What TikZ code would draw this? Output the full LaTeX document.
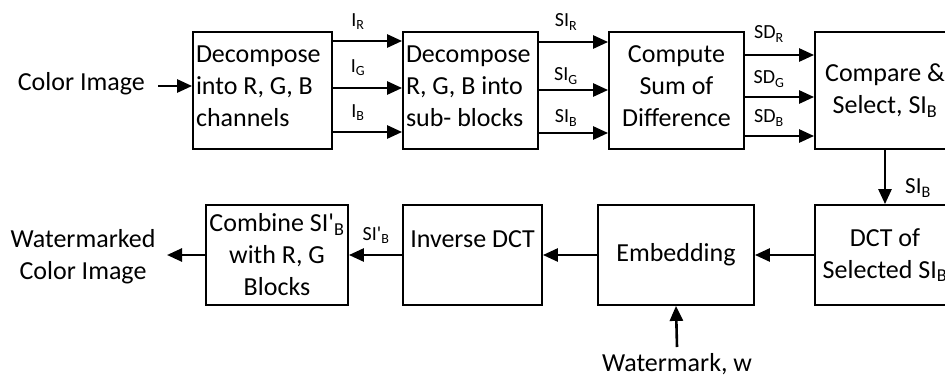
\documentclass[tikz,border=0pt]{standalone}
\usepackage{fontspec}
\setmainfont{Carlito}
\usetikzlibrary{arrows.meta}
\begin{document}
\begin{tikzpicture}[x=1pt,y=-1pt,
  box/.style={draw,line width=1.8pt,minimum height=117pt,inner sep=3pt,font=\fontsize{26}{32}\selectfont},
  lbox/.style={box,minimum height=100pt},
  lab/.style={inner sep=0pt,font=\fontsize{20}{24}\selectfont},
  txt/.style={inner sep=0pt,font=\fontsize{26}{32}\selectfont},
  arr/.style={line width=2.6pt,-{Triangle[length=15pt,width=13pt]}}]
\useasboundingbox (0,0) rectangle (945,376);
\begin{scope}
\clip (0,0) rectangle (945,376);
% top row
\node[box,minimum width=139pt,text width=133pt,align=flush left] (b1) at (262.5,90.5) {Decompose\\into R, G, B\\channels\vspace{8pt}};
\node[box,minimum width=135pt,text width=129pt,align=flush left] (b2) at (470.5,90.5) {Decompose\\R, G, B into\\sub- blocks\vspace{8pt}};
\node[box,minimum width=135pt,align=center] (b3) at (676.5,90.5) {Compute\\Sum of\\Difference\\[-24pt]\mbox{}};
\node[box,minimum width=140pt,align=center] (b4) at (885,90.5) {Compare \&\\Select, SI\textsubscript{B}};
% bottom row
\node[lbox,minimum width=142pt,align=center] (c1) at (277,255) {Combine SI\textquotesingle\textsubscript{B}\\with R, G\\Blocks};
\node[lbox,minimum width=139pt,align=center] (c2) at (472.5,255) {Inverse DCT\\\mbox{}};
\node[lbox,minimum width=156pt,align=center] (c3) at (676,255) {Embedding};
\node[lbox,minimum width=140pt,align=center] (c4) at (885,255) {DCT of\\Selected SI\textsubscript{B}};
% free texts
\node[txt,anchor=east] (in) at (145,84) {Color Image};
\node[txt,align=center] (out) at (83,257) {Watermarked\\Color Image};
\node[txt,anchor=base] (wm) at (677,371) {Watermark, w};
\coordinate (inend) at (158,86);
\coordinate (outend) at (167,255);
\coordinate (wmtop) at (677,347);
% arrows top row
\draw[arr] (inend) -- (b1.west|-inend);
\draw[arr] (b1.east|-{0,41}) -- (b2.west|-{0,41});
\draw[arr] (b1.east|-{0,88}) -- (b2.west|-{0,88});
\draw[arr] (b1.east|-{0,132}) -- (b2.west|-{0,132});
\draw[arr] (b2.east|-{0,42}) -- (b3.west|-{0,42});
\draw[arr] (b2.east|-{0,90}) -- (b3.west|-{0,90});
\draw[arr] (b2.east|-{0,133}) -- (b3.west|-{0,133});
\draw[arr] (b3.east|-{0,55}) -- (b4.west|-{0,55});
\draw[arr] (b3.east|-{0,97}) -- (b4.west|-{0,97});
\draw[arr] (b3.east|-{0,136}) -- (b4.west|-{0,136});
\draw[arr] (b4.south) -- (c4.north);
% arrows bottom row
\draw[arr] (c4.west) -- (c3.east);
\draw[arr] (c3.west) -- (c2.east);
\draw[arr] (c2.west) -- (c1.east);
\draw[arr] (c1.west) -- (outend);
\draw[arr] (wmtop) -- (c3.south);
% labels
\node[lab] (lir) at (358,22) {I\textsubscript{R}};
\node[lab] (lig) at (358,68) {I\textsubscript{G}};
\node[lab] (lib) at (358,113) {I\textsubscript{B}};
\node[lab] (lsr) at (566,22) {SI\textsubscript{R}};
\node[lab] (lsg) at (566,76) {SI\textsubscript{G}};
\node[lab] (lsb) at (566,118) {SI\textsubscript{B}};
\node[lab] (ldr) at (769,34) {SD\textsubscript{R}};
\node[lab] (ldg) at (769,79) {SD\textsubscript{G}};
\node[lab] (ldb) at (769,118) {SD\textsubscript{B}};
\node[lab,font=\fontsize{23}{27}\selectfont] (lsel) at (918,188) {SI\textsubscript{B}};
\node[lab] (lsp) at (376,235) {SI\textquotesingle\textsubscript{B}};
\end{scope}
\end{tikzpicture}
\end{document}
